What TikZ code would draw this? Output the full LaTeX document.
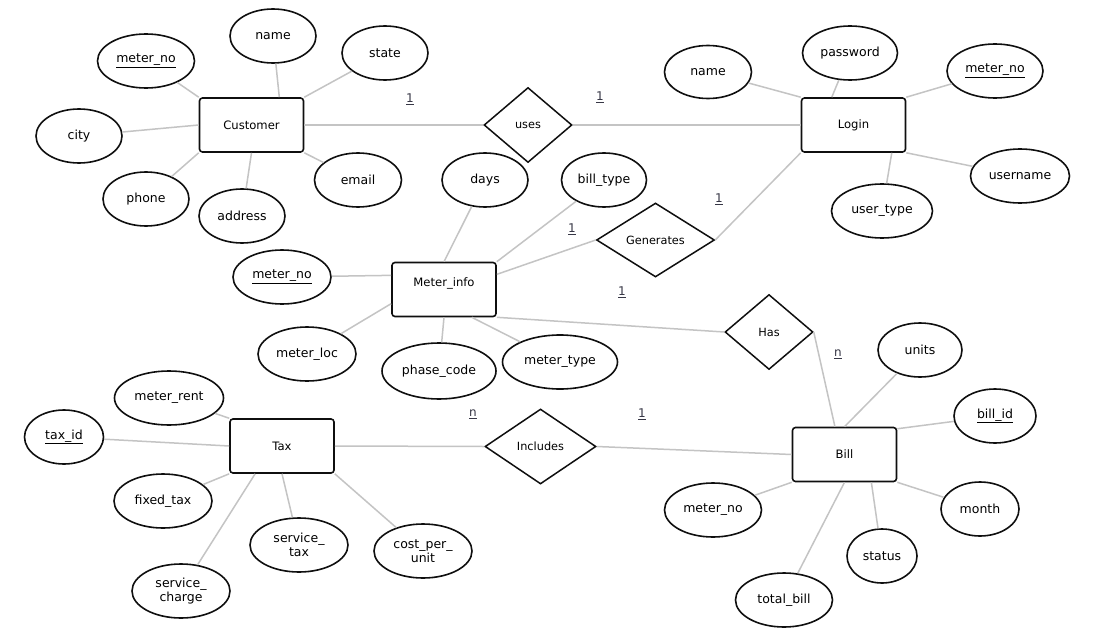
\documentclass[tikz,border=0pt]{standalone}
\usepackage{fontspec}
\setmainfont{DejaVu Sans}
\usetikzlibrary{shapes.geometric}
\definecolor{cInk} {RGB}{15,15,15}
\definecolor{cLine}{RGB}{196,196,196}
\definecolor{cCard}{RGB}{55,55,70}

\begin{document}
\begin{tikzpicture}[
  x=1pt, y=-1pt,
  % ── entity boxes
  ent/.style={
    draw=cInk, fill=white, rounded corners=3pt, line width=1.6pt,
    inner sep=0pt, minimum width=104pt, minimum height=54pt,
    font=\fontsize{11.6}{13}\selectfont
  },
  % ── relationship diamonds
  rel/.style={
    diamond, draw=cInk, fill=white, line width=1.5pt, inner sep=0pt,
    minimum width=88pt, minimum height=75pt,
    font=\fontsize{11.3}{13}\selectfont
  },
  % ── attribute ellipses
  attr/.style={
    ellipse, draw=cInk, fill=white, line width=1.6pt, inner sep=0pt,
    minimum width=86pt, minimum height=54pt, align=center,
    font=\fontsize{12.5}{14.5}\selectfont
  },
  % ── connectors and cardinalities
  lnk/.style ={draw=cLine, line width=1.5pt},
  card/.style={font=\fontsize{12}{13}\selectfont, text=cCard},
]

\fill[white] (0,0) rectangle (1094,642);
\useasboundingbox (0,0) rectangle (1094,642);

%% ═══════════════════════════════════════════════════════════════════════
%%  ENTITIES AND RELATIONSHIPS
%% ═══════════════════════════════════════════════════════════════════════

\node[ent] (CUST)  at (251.5,125)   {Customer};
\node[ent] (LOGIN) at (853.5,125)   {Login};
\node[ent, text depth=14.5pt] (METER) at (444,289.5) {Meter\_info};
\node[ent] (TAX)   at (282,446)     {Tax};
\node[ent] (BILL)  at (844.5,454.5) {Bill};

\node[rel] (USES) at (528,125)     {uses};
\node[rel, minimum width=118pt, minimum height=74pt] (GEN) at (655.5,240) {Generates};
\node[rel] (HAS)  at (769,332)     {Has};
\node[rel, minimum width=111pt] (INC) at (540.5,446.5) {Includes};

%% ═══════════════════════════════════════════════════════════════════════
%%  ATTRIBUTES
%% ═══════════════════════════════════════════════════════════════════════

% Customer
\node[attr, minimum width=97pt] (cuMno) at (146,61)  {\underline{meter\_no}};
\node[attr] (cuName)  at (273,36)  {name};
\node[attr] (cuState) at (385,53)  {state};
\node[attr] (cuCity)  at (79,136)  {city};
\node[attr] (cuPhone) at (146,199) {phone};
\node[attr] (cuAddr)  at (242,216) {address};
\node[attr, minimum width=87pt] (cuMail) at (358,180) {email};

% Login
\node[attr, minimum width=87pt, minimum height=53pt] (lgName) at (708,72) {name};
\node[attr, minimum width=95pt]  (lgPass) at (850,53)   {password};
\node[attr, minimum width=96pt]  (lgMno)  at (995,71)   {\underline{meter\_no}};
\node[attr, minimum width=99pt]  (lgUser) at (1020,176) {username};
\node[attr, minimum width=101pt] (lgType) at (882,211)  {user\_type};

% Meter_info
\node[attr] (mtDays) at (485,180) {days};
\node[attr, minimum width=85pt]  (mtBill)  at (604,180) {bill\_type};
\node[attr, minimum width=98pt]  (mtMno)   at (282,277) {\underline{meter\_no}};
\node[attr, minimum width=98pt]  (mtLoc)   at (307,354) {meter\_loc};
\node[attr, minimum width=114pt, minimum height=56pt] (mtPhase) at (439,371) {phase\_code};
\node[attr, minimum width=115pt] (mtType)  at (560,362) {meter\_type};

% Tax
\node[attr, minimum width=109pt] (txRent)  at (169,398) {meter\_rent};
\node[attr, minimum width=79pt]  (txId)    at (64,437)  {\underline{tax\_id}};
\node[attr, minimum width=98pt]  (txFixed) at (163,501) {fixed\_tax};
\node[attr, minimum width=98pt]  (txSchg)  at (181,591) {service\_\\charge};
\node[attr, minimum width=98pt]  (txStax)  at (299,545) {service\_\\tax};
\node[attr, minimum width=98pt]  (txCost)  at (423,551) {cost\_per\_\\unit};

% Bill
\node[attr, minimum width=84pt] (blUnits)  at (920,350) {units};
\node[attr, minimum width=82pt] (blId)     at (995,416) {\underline{bill\_id}};
\node[attr, minimum width=78pt] (blMonth)  at (980,509) {month};
\node[attr, minimum width=70pt] (blStatus) at (882,556) {status};
\node[attr, minimum width=97pt] (blTotal)  at (784,600) {total\_bill};
\node[attr, minimum width=97pt] (blMno)    at (713,510) {meter\_no};

%% ═══════════════════════════════════════════════════════════════════════
%%  CONNECTORS
%% ═══════════════════════════════════════════════════════════════════════

% Customer attributes
\draw[lnk] (cuMno)   -- (CUST.north west);
\draw[lnk] (cuName)  -- (CUST.45);
\draw[lnk] (cuState) -- (CUST.north east);
\draw[lnk] (cuCity)  -- (CUST.west);
\draw[lnk] (cuPhone) -- (CUST.south west);
\draw[lnk] (cuAddr)  -- (CUST.south);
\draw[lnk] (cuMail)  -- (CUST.south east);

% Login attributes
\draw[lnk] (lgName) -- (LOGIN.north west);
\draw[lnk] (lgPass) -- (LOGIN.128);
\draw[lnk] (lgMno)  -- (LOGIN.north east);
\draw[lnk] (lgUser) -- (LOGIN.south east);
\draw[lnk] (lgType) -- (LOGIN.-36);

% Meter_info attributes
\draw[lnk] (mtDays)  -- (METER.north);
\draw[lnk] (mtBill)  -- (METER.north east);
\draw[lnk] (mtMno)   -- (METER.165);
\draw[lnk] (mtLoc)   -- (METER.195);
\draw[lnk] (mtPhase) -- (METER.south);
\draw[lnk] (mtType)  -- (METER.-45);

% Tax attributes
\draw[lnk] (txRent)  -- (TAX.north west);
\draw[lnk] (txId)    -- (TAX.west);
\draw[lnk] (txFixed) -- (TAX.south west);
\draw[lnk] (txSchg)  -- (TAX.-134);
\draw[lnk] (txStax)  -- (TAX.south);
\draw[lnk] (txCost)  -- (TAX.south east);

% Bill attributes
\draw[lnk] (blUnits)  -- (BILL.north);
\draw[lnk] (blId)     -- (BILL.26);
\draw[lnk] (blMonth)  -- (BILL.south east);
\draw[lnk] (blStatus) -- (BILL.-46);
\draw[lnk] (blTotal)  -- (BILL.south);
\draw[lnk] (blMno)    -- (BILL.south west);

% Relationships
\draw[lnk] (CUST.east)  -- (USES.west);
\draw[lnk] (USES.east)  -- (LOGIN.west);
\draw[lnk] (METER.16)   -- (GEN.west);
\draw[lnk] (GEN.east)   -- (LOGIN.south west);
\draw[lnk] (METER.south east) -- (HAS.west);
\draw[lnk] (HAS.east)   -- (BILL.109);
\draw[lnk] (TAX.east)   -- (INC.west);
\draw[lnk] (INC.east)   -- (BILL.west);

% Cardinalities
\node[card] (k1) at (410,99)  {\underline{1}};
\node[card] (k2) at (600,97)  {\underline{1}};
\node[card] (k3) at (719,199) {\underline{1}};
\node[card] (k4) at (572,229) {\underline{1}};
\node[card] (k5) at (622,292) {\underline{1}};
\node[card] (k6) at (838,354) {\underline{n}};
\node[card] (k7) at (473,414) {\underline{n}};
\node[card] (k8) at (642,414) {\underline{1}};

\end{tikzpicture}
\end{document}
